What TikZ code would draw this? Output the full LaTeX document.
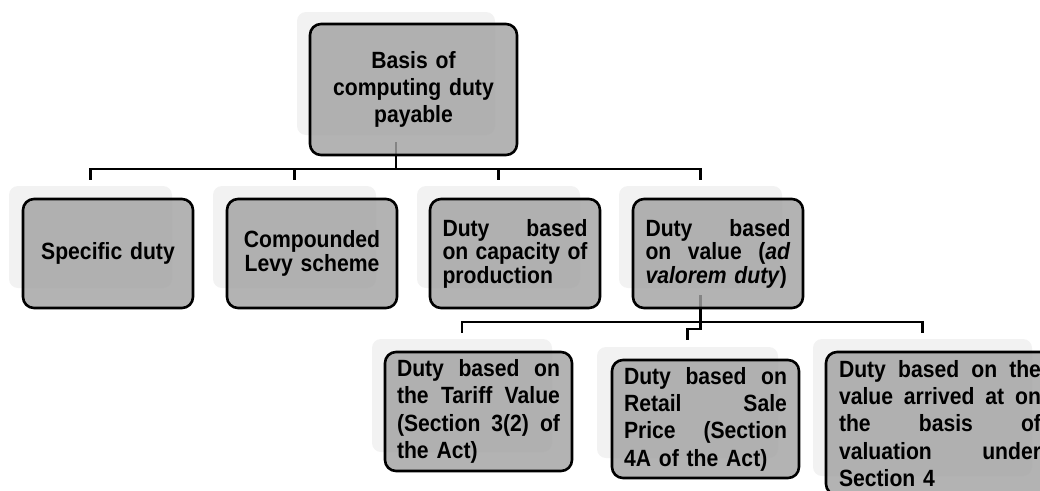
\documentclass[tikz,border=0pt]{standalone}
\usepackage{fontspec}
\setmainfont{Liberation Sans}[FakeStretch=0.9]
\definecolor{shadowgray}{RGB}{242,242,242}
\definecolor{boxgray}{RGB}{162,162,162}
% one justified line of a fixed width (words separated by \hfill)
\newcommand{\jline}[2]{\leavevmode\hbox to #1{#2}}
\begin{document}
\begin{tikzpicture}[x=1pt,y=-1pt,
  backbox/.style={draw=none, fill=shadowgray, rounded corners=9pt, inner sep=0pt},
  item/.style={draw=black, line width=2.6pt, fill=boxgray, fill opacity=0.82,
    draw opacity=1, text opacity=1, rounded corners=11pt, inner sep=0pt},
  roomy/.style={font=\bfseries\fontsize{23.5}{27.3}\selectfont},
  tight/.style={font=\bfseries\fontsize{23.5}{23.5}\selectfont},
  link/.style={draw=black, line width=2.8pt}]
\useasboundingbox (0,0) rectangle (1040,490);
\clip (0,0) rectangle (1040,490);

% light back plates
\node[backbox, minimum width=198pt, minimum height=123pt] (sh0) at (396,73.5) {};
\node[backbox, minimum width=163pt, minimum height=102pt] (sh1) at (90.5,237) {};
\node[backbox, minimum width=163pt, minimum height=102pt] (sh2) at (294.5,237) {};
\node[backbox, minimum width=163pt, minimum height=102pt] (sh3) at (498.5,237) {};
\node[backbox, minimum width=163pt, minimum height=102pt] (sh4) at (700.5,237) {};
\node[backbox, minimum width=180pt, minimum height=113pt] (sh5) at (462,395.5) {};
\node[backbox, minimum width=181pt, minimum height=111pt] (sh6) at (687.5,402.5) {};
\node[backbox, minimum width=219pt, minimum height=137pt] (sh7) at (922.5,407.5) {};

% levels of the two buses
\coordinate (bus1) at (0,169);
\coordinate (bus2) at (0,322);

% connectors (drawn under the boxes)
\draw[link] ([yshift=-7pt]sh0.south) -- (sh0.center |- bus1);
\draw[link] ([yshift=6pt]sh1.north) |- (sh4.north |- bus1) -- ([yshift=6pt]sh4.north);
\draw[link] (sh2.north |- bus1) -- ([yshift=6pt]sh2.north);
\draw[link] (sh3.north |- bus1) -- ([yshift=6pt]sh3.north);

\draw[link] ([yshift=-7pt]sh4.south) -- (sh4.center |- bus2);
\draw[link] ([yshift=6pt]sh5.north) |- (sh7.north |- bus2) -- ([yshift=6pt]sh7.north);
\draw[link] (sh4.center |- bus2) -- ++(0,7) -| ([yshift=7pt]sh6.north);

% boxes
\node[item, roomy, minimum width=207pt, minimum height=131pt, text width=190pt, align=center]
  (b0) at (413.5,89.5) {Basis of\\computing duty\\payable};

\node[item, tight, minimum width=170pt, minimum height=109pt, text width=150pt, align=center]
  (b1) at (108,253.5) {Specific duty};
\node[item, tight, minimum width=170pt, minimum height=109pt, text width=150pt, align=center]
  (b2) at (312,253.5) {Compounded\\Levy scheme};
\node[item, tight, minimum width=170pt, minimum height=109pt, text width=145pt, align=left]
  (b3) at (515,253.5) {\jline{145pt}{Duty\hfill based}\\
    \jline{145pt}{on\hfill capacity\hfill of}\\production};
\node[item, tight, minimum width=170pt, minimum height=109pt, text width=145pt, align=left]
  (b4) at (718,253.5) {\jline{145pt}{Duty\hfill based}\\
    \jline{145pt}{on\hfill value\hfill (\textit{ad}}\\\textit{valorem duty})};

\node[item, roomy, minimum width=187pt, minimum height=119pt, text width=163pt, align=left]
  (b5) at (478.5,411.5) {\jline{163pt}{Duty\hfill based\hfill on}\\
    \jline{163pt}{the\hfill Tariff\hfill Value}\\
    \jline{163pt}{(Section\hfill 3(2)\hfill of}\\the Act)};
\node[item, roomy, minimum width=187pt, minimum height=118pt, text width=163pt, align=left]
  (b6) at (705.5,419) {\jline{163pt}{Duty\hfill based\hfill on}\\
    \jline{163pt}{Retail\hfill Sale}\\
    \jline{163pt}{Price\hfill (Section}\\4A of the Act)};
\node[item, roomy, minimum width=228pt, minimum height=143pt, text width=202pt, align=left]
  (b7) at (940,423.5) {\jline{202pt}{Duty\hfill based\hfill on\hfill the}\\
    \jline{202pt}{value\hfill arrived\hfill at\hfill on}\\
    \jline{202pt}{the\hfill basis\hfill of}\\
    \jline{202pt}{valuation\hfill under}\\Section 4};
\end{tikzpicture}
\end{document}
